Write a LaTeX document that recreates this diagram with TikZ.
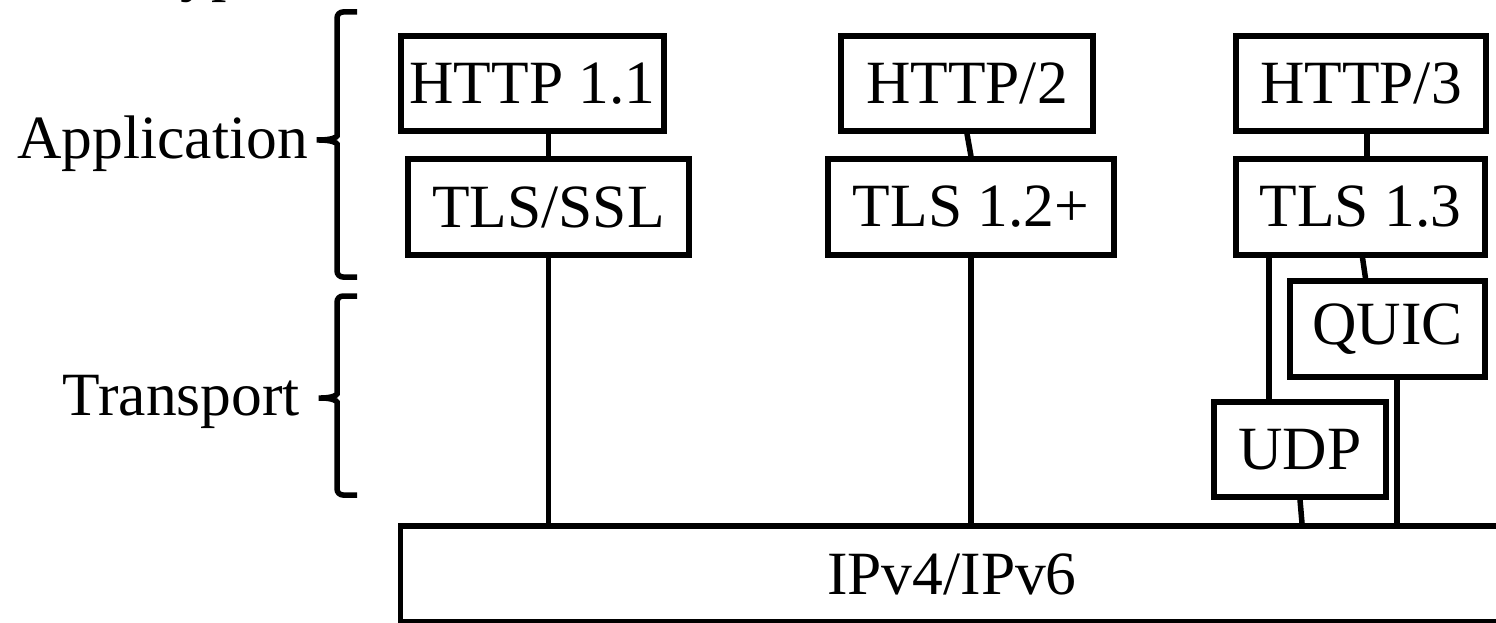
\documentclass[tikz,border=0pt]{standalone}
\usepackage{fontspec}
\setmainfont{Liberation Serif}
\usetikzlibrary{calc}
\begin{document}
\begin{tikzpicture}[x=1pt,y=-1pt,
  every node/.style={font=\fontsize{61.5}{73}\selectfont, inner sep=0pt},
  layerbox/.style={draw, line width=5.5pt, align=center},
  link/.style={line width=5.5pt},
  brk/.style={line width=5.5pt, rounded corners=6pt},
  lbl/.style={anchor=base east}]
\useasboundingbox (0,0) rectangle (1496,623);
% clipped heading
\node[anchor=base west] (head) at (147,-10) {Type};
% boxes
\node[layerbox, minimum width=263pt, minimum height=95pt] (h1) at (532.5,83.5) {HTTP 1.1};
\node[layerbox, minimum width=281pt, minimum height=96pt] (t1) at (548.5,207) {TLS/SSL};
\node[layerbox, minimum width=252pt, minimum height=95pt] (h2) at (967,83.5) {HTTP/2};
\node[layerbox, minimum width=286pt, minimum height=96pt] (t2) at (971,207) {TLS 1.2+};
\node[layerbox, minimum width=250pt, minimum height=95pt] (h3) at (1361,83.5) {HTTP/3};
\node[layerbox, minimum width=249pt, minimum height=96pt] (t3) at (1360.5,207) {TLS 1.3};
\node[layerbox, minimum width=195pt, minimum height=96pt] (quic) at (1387.5,329) {QUIC};
\node[layerbox, minimum width=172pt, minimum height=95pt] (udp) at (1300,449.5) {UDP};
\node[layerbox, minimum width=1103pt, minimum height=96pt] (ip) at (952,574) {IPv4/IPv6};
% connectors
\draw[link] (h1.south -| t1.north) -- (t1.north);
\draw[link] (t1.south) -- (t1.south |- ip.north);
\draw[link] (h2.south) -- (t2.north);
\draw[link] (t2.south) -- (t2.south |- ip.north);
\coordinate (h3c) at ([xshift=6pt]h3.south);
\draw[link] (h3c) -- (h3c |- t3.north);
\coordinate (u1) at ([xshift=-31pt]udp.north);
\draw[link] (u1 |- t3.south) -- (u1);
\draw[link] ([xshift=2pt]t3.south) -- ([xshift=-22pt]quic.north);
\coordinate (q1) at ([xshift=9.5pt]quic.south);
\draw[link] (q1) -- (q1 |- ip.north);
\draw[link] (udp.south) -- ([xshift=2pt]udp.south |- ip.north);
% brackets
\coordinate (apptip) at (313,140);
\coordinate (trtip) at (315,398);
\draw[brk] (357,12) -- (337,12) -- (337,130)
  .. controls (337,137) and (332,140) .. (apptip)
  .. controls (332,140) and (337,143) .. (337,150) -- (337,277) -- (357,277);
\draw[brk] (357,296) -- (337,296) -- (337,388)
  .. controls (337,395) and (332,398) .. (trtip)
  .. controls (332,398) and (337,401) .. (337,408) -- (337,495) -- (357,495);
% labels
\node[lbl] (app) at (308,158) {Application};
\node[lbl] (tr) at (300,415) {Transport};
\end{tikzpicture}
\end{document}
